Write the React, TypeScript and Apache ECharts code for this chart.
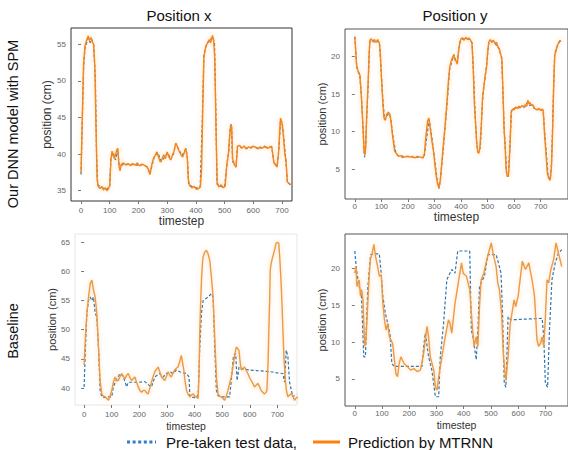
import React, { useEffect, useRef } from 'react';
import * as echarts from 'echarts';

type P = [number, number][];

const xTicks = [0, 100, 200, 300, 400, 500, 600, 700];
const ticksTL = [35, 40, 45, 50, 55];
const ticksTR = [5, 10, 15, 20];
const ticksBL = [40, 45, 50, 55, 60, 65];
const ticksBR = [5, 10, 15, 20];

// Top-left: DNN, position x
const dnnXTest: P = [[0,37.2],[4,44],[9,52],[14,54.5],[20,55.2],[25,55.8],[32,55.2],[38,55.6],[44,54.8],[50,50],[54,40],[58,35.8],[70,35.5],[80,35.3],[90,35.2],[100,35.6],[104,39.5],[112,40.2],[120,39.2],[128,40.6],[134,38],[140,38.5],[155,38.6],[175,38.6],[195,38.5],[215,38.6],[232,38.2],[240,37.3],[255,39.6],[267,40.2],[280,39],[292,39.6],[301,40.2],[313,39.3],[322,40],[330,41.4],[342,40.5],[352,39.8],[365,40.7],[370,39.8],[375,35.9],[385,35.6],[400,35.4],[415,35.5],[422,44],[428,53.5],[437,55],[447,55.4],[458,56],[465,55.2],[470,45],[474,35.9],[485,35.6],[500,35.5],[508,38.5],[515,40.5],[520,43.8],[524,44.1],[528,39],[540,38.3],[545,41.1],[560,40.9],[580,40.8],[600,41],[620,40.8],[640,40.9],[660,41],[665,40.9],[672,38.7],[683,38.3],[690,41],[695,44.7],[701,44.2],[707,42],[713,39.3],[719,36.1],[730,35.8]];
const dnnXPred: P = [[0,37.5],[4,44.5],[9,52.5],[14,54.8],[20,55.6],[25,56.1],[30,55.5],[35,55.9],[40,55.2],[44,55],[48,52],[52,44],[56,36.5],[60,35.6],[66,35.3],[72,35.6],[78,35.1],[84,35.4],[90,35],[96,35.3],[100,35.8],[104,39.2],[108,40.4],[112,39.9],[116,39.4],[120,39.9],[124,40.5],[128,40.8],[132,38.5],[136,37.7],[140,38.6],[148,38.8],[156,38.5],[164,38.7],[172,38.4],[180,38.7],[188,38.5],[196,38.8],[204,38.4],[212,38.6],[220,38.5],[228,38.3],[234,38],[240,37.2],[246,38.5],[252,39.4],[258,39.8],[264,40.3],[270,39.6],[276,38.9],[282,39.3],[288,39.9],[294,39.4],[300,40.3],[306,39.6],[312,39.2],[318,39.8],[324,40.4],[330,41.5],[336,41],[342,40.4],[348,39.9],[354,39.6],[360,40.2],[365,40.8],[370,39.6],[374,36.5],[378,35.7],[386,35.4],[394,35.6],[402,35.2],[410,35.3],[416,35.6],[420,38],[424,46],[428,53.2],[434,54.6],[440,55.1],[446,55.6],[452,55.2],[458,56.2],[462,55.5],[466,53],[470,44],[474,36.2],[480,35.5],[488,35.8],[496,35.4],[502,35.6],[508,38.6],[514,40.2],[518,42.6],[522,44],[525,43.6],[528,39.4],[534,38.6],[540,38.2],[545,41],[552,41.2],[560,40.8],[568,41.1],[576,40.7],[584,41],[592,40.8],[600,41.1],[608,40.9],[616,40.7],[624,41],[632,40.8],[640,41.1],[648,40.8],[656,40.9],[664,41.1],[668,40],[672,38.8],[678,38.6],[683,38.2],[688,40],[692,43],[695,44.9],[700,44.3],[705,42.5],[710,40],[714,39.2],[719,36.2],[725,36],[730,35.9]];

// Top-right: DNN, position y
const dnnYTest: P = [[0,22.7],[4,20.5],[8,18.5],[14,18],[19,17.5],[25,14.7],[31,10.3],[35,7.2],[37,6.6],[40,7.6],[45,12],[50,16],[56,22],[65,22.2],[75,21.9],[85,22.1],[93,21.8],[99,18.2],[106,14],[112,11.6],[120,12.1],[128,12.4],[134,12],[145,9],[155,7.1],[162,6.8],[180,6.6],[200,6.7],[220,6.6],[240,6.6],[261,6.5],[270,9],[280,11.6],[287,10],[293,8.5],[300,6.5],[311,3.25],[317,2.4],[323,3.8],[330,6.4],[340,10.5],[348,13.9],[357,18.3],[367,19.6],[373,20.3],[380,19.5],[385,19.2],[392,21],[398,22.2],[410,22.4],[423,22.4],[432,22.3],[442,21.8],[448,17],[454,11.6],[459,8.5],[464,7.2],[468,7.4],[473,8],[478,12],[483,15.1],[491,17.3],[497,19],[504,21.8],[512,22.1],[522,22],[532,21.6],[541,21.3],[547,20.6],[553,20],[558,15],[563,10],[566,8.5],[572,4.1],[578,4],[584,8],[590,12.9],[603,13.1],[620,13.2],[640,13.3],[650,13.9],[659,13.5],[672,13.5],[678,12.9],[695,13],[709,12.9],[715,10],[721,7.2],[728,4.1],[736,3.6],[740,5],[744,9.4],[748,15],[753,20.4],[761,21.3],[771,22],[775,22.1]];
const dnnYPred: P = [[0,22.6],[3,21],[6,19],[10,18.4],[14,17.8],[19,17.6],[24,15],[28,12.5],[32,9.8],[35,7.5],[38,6.9],[41,8],[45,12.5],[50,16.5],[54,20.5],[57,22.2],[62,22.4],[68,22],[74,22.3],[80,21.9],[86,22.3],[92,21.9],[96,20.5],[100,17.5],[106,13.5],[110,11.8],[115,11.5],[120,12.3],[126,12.6],[131,12.4],[136,11.5],[142,9.5],[150,7.4],[158,7],[166,6.7],[176,6.8],[186,6.6],[196,6.7],[206,6.6],[216,6.7],[226,6.5],[236,6.7],[246,6.6],[256,6.5],[262,7],[268,9.5],[274,11.4],[279,11.8],[284,10.5],[290,8.8],[296,7.5],[302,5.5],[307,4],[312,3],[317,2.5],[322,3.5],[328,6],[334,8.5],[340,10.8],[346,13.5],[352,16.5],[357,18.5],[362,19.3],[367,19.8],[372,20.2],[377,19.6],[382,19.4],[386,19],[390,20.5],[395,21.8],[400,22.4],[406,22.5],[412,22.2],[418,22.6],[424,22.3],[430,22.5],[436,22.2],[441,21.9],[446,18.5],[450,14],[455,11],[459,8.6],[463,7.3],[467,7.1],[471,7.8],[476,10.5],[481,14.5],[486,16],[491,17.5],[496,18.5],[500,20.5],[505,22],[510,22.3],[516,21.9],[522,22.2],[528,21.8],[534,21.9],[540,21.2],[545,21],[550,20.2],[554,19.6],[558,15.5],[562,10.5],[566,8],[570,5],[574,4],[579,4.2],[584,7.5],[589,12.5],[594,13],[600,12.9],[606,13.3],[612,13.1],[618,13.4],[624,13.2],[630,13.5],[636,13.3],[642,13.6],[648,13.4],[652,14.2],[656,13.7],[660,13.9],[664,13.5],[670,13.6],[676,13.1],[682,13],[688,12.9],[694,13.1],[700,12.8],[706,13],[710,12.7],[715,9.5],[720,7],[725,4.5],[730,3.8],[736,3.5],[741,5.5],[745,10],[749,16],[753,20.2],[758,20.8],[763,21.5],[768,21.9],[773,22.2],[776,22]];

// Bottom-left: baseline, position x
const baseXTest: P = [[0,40.2],[4,46],[10,52.8],[16,55],[22,55.6],[28,55],[34,55.6],[40,52.8],[46,52.2],[52,47.1],[58,39.6],[64,38.5],[75,38.4],[88,38.5],[100,38.5],[106,40.2],[118,41.5],[130,42.5],[142,42],[154,40.2],[160,41],[180,41],[200,41],[220,41.1],[235,40.5],[244,40.2],[256,41.9],[274,42.5],[286,41.9],[298,42.5],[310,42.8],[322,42.5],[334,43.1],[346,42.8],[360,42.6],[371,42.5],[380,41.9],[383,38.5],[395,38.4],[407,38.3],[413,39],[419,47.1],[425,52.8],[431,55],[440,55.3],[449,55.6],[461,56.2],[467,55.6],[473,47.1],[479,39.6],[485,38.7],[500,38.5],[515,38.5],[527,38.5],[533,41.3],[541,45.6],[549,45.9],[554,41.3],[561,43.6],[575,43.3],[600,43.1],[625,43],[650,42.9],[675,42.8],[700,42.6],[720,42.5],[726,41],[732,46.5],[738,45.4],[744,41],[756,38.5],[768,39]];
const baseXPred: P = [[0,44],[5,49],[10,52.8],[16,55.6],[22,57.9],[28,58.5],[34,56.8],[40,55.6],[46,52.8],[52,47.1],[58,41.3],[64,39],[70,38.6],[76,38.5],[82,38.2],[88,37.9],[94,38.6],[100,39.6],[106,41],[112,41.9],[118,41.3],[124,41.3],[130,42],[136,42.5],[142,42],[148,41.6],[154,42.2],[160,42.5],[166,41.8],[172,41.3],[178,41.6],[184,41.9],[190,41],[196,40.2],[202,39.6],[208,39.3],[214,39.6],[220,39.6],[226,39.2],[232,39],[238,40],[244,41],[250,42],[256,42.8],[262,43.2],[268,43.6],[274,42.8],[280,41.9],[286,41.6],[292,41.3],[298,42],[304,42.8],[310,42.2],[316,41.9],[322,42.6],[328,43.1],[334,43.4],[340,43.6],[346,44.5],[352,45.6],[356,44.5],[361,43.1],[366,41],[371,39.6],[377,38.9],[383,38.5],[389,38.8],[395,39],[401,38.6],[407,38.5],[413,38.2],[416,42],[419,49.9],[422,54.5],[425,58.5],[428,61],[431,62.5],[437,63.3],[443,63.6],[449,63],[455,61.9],[461,59],[467,55.6],[472,50],[476,45.3],[480,41.5],[485,39],[491,38.6],[497,38.5],[503,38.2],[509,37.9],[515,38.6],[521,39.6],[527,40.8],[533,41.9],[537,43],[541,44.2],[546,45.8],[551,47],[556,46.8],[561,46.4],[565,44.5],[569,43.1],[575,43.3],[581,43.6],[587,43],[593,42.5],[599,41.8],[605,41.3],[611,40.8],[617,40.2],[623,40.5],[629,40.8],[635,40.3],[641,39.6],[647,39.3],[653,39],[658,39.2],[662,39.6],[666,44],[669,49.9],[672,55],[674,60.2],[678,61.5],[683,62.5],[689,63.5],[695,64.8],[700,65],[705,64.8],[709,62],[713,58.5],[717,54],[720,49.9],[724,45],[729,41.3],[733,39.5],[738,38.5],[744,38.8],[750,39],[756,38.6],[762,37.9],[768,38.3],[774,38.5]];

// Bottom-right: baseline, position y
const baseYTest: P = [[0,22.3],[6,19.8],[16,17.5],[24,16.6],[33,8],[39,8],[42,11.6],[48,17.5],[58,21.8],[66,21.9],[90,21.9],[97,19.3],[103,16.2],[112,13.9],[121,12.5],[129,11.2],[136,7.1],[145,6.7],[247,6.7],[253,9.4],[259,11.2],[271,8],[283,6.2],[296,2.6],[308,2.6],[314,8],[326,12.5],[338,18.4],[344,18.9],[356,19.8],[368,19.3],[378,22.3],[422,22.3],[428,11.6],[434,10.7],[446,7.6],[452,11.6],[458,17.5],[464,18],[476,18.9],[489,21.8],[519,21.8],[531,20.2],[537,19.3],[543,13.4],[549,4.4],[555,3.9],[563,13.4],[573,13],[688,13.2],[694,10.7],[700,4.4],[708,3.9],[715,11.6],[724,18.4],[736,20.7],[748,22],[760,22.5]];
const baseYPred: P = [[0,19.3],[4,20.2],[8,17.5],[16,18.4],[21,16.2],[25,17.1],[30,15.7],[34,11.6],[37,9.4],[41,10.3],[46,13.9],[52,18.4],[57,21.1],[64,22],[70,23.2],[76,21.6],[84,20.2],[90,18.9],[97,19.1],[103,15.2],[109,13],[115,11.6],[121,12.5],[127,10.7],[139,9.8],[151,5.7],[157,5.3],[163,7.1],[169,8],[181,7.1],[193,6.7],[205,6.2],[217,6.4],[229,6],[241,6.2],[253,8.5],[265,12.1],[271,10.7],[277,8],[290,6.2],[296,3.9],[302,3.5],[308,5.3],[320,8],[332,10.7],[344,13],[350,12.5],[356,11.2],[368,15.2],[380,18],[392,20.7],[398,19.3],[410,18.9],[422,17.1],[431,12.5],[438,9.4],[446,10.7],[452,9.4],[458,14.8],[464,18.4],[474,19.3],[482,20.7],[491,22],[501,23.4],[510,21.6],[519,20.2],[525,18],[531,17.1],[539,13.9],[546,8],[555,4.8],[563,8],[571,12.5],[579,14.3],[585,15.7],[591,14.8],[600,16.2],[607,18.4],[615,20.9],[627,19.8],[639,20.7],[651,18.4],[660,16.2],[669,10.3],[675,9.4],[682,9.8],[688,10.7],[694,9.4],[700,13.4],[706,18.4],[712,18],[720,19.8],[730,21.1],[739,23.4],[748,22],[760,20.2]];

const FONT = '"Liberation Sans", Arial, sans-serif';
const BLUE = '#2c74b3';
const ORANGE_TOP = '#f5861c';
const ORANGE_BOT = '#eb9a48';

export default function App() {
  const ref = useRef<HTMLDivElement>(null);
  useEffect(() => {
    const chart = echarts.init(ref.current!, null, { renderer: 'svg' });
    const panels = [
      { grid: { left: 71, top: 28, width: 221, height: 173, borderColor: '#333' }, x: [-35, 735], y: [33.6, 57.2], yt: ticksTL, test: dnnXTest, pred: dnnXPred, orange: ORANGE_TOP, yGap: 17, yFs: 12, xGap: 13, xFs: 12, xMargin: 5 },
      { grid: { left: 345, top: 29, width: 226, height: 170, borderColor: '#555' }, x: [-37, 803], y: [1.0, 23.7], yt: ticksTR, test: dnnYTest, pred: dnnYPred, orange: ORANGE_TOP, yGap: 18, yFs: 11, xGap: 12, xFs: 12, xMargin: 3 },
      { grid: { left: 75, top: 234, width: 222, height: 171, borderColor: '#e6e6e6' }, x: [-33, 771], y: [37.1, 66.4], yt: ticksBL, test: baseXTest, pred: baseXPred, orange: ORANGE_BOT, yGap: 17, yFs: 11, xGap: 15, xFs: 10.5, xMargin: 5 },
      { grid: { left: 345, top: 234, width: 226, height: 172, borderColor: '#555' }, x: [-36, 783], y: [1.35, 24.6], yt: ticksBR, test: baseYTest, pred: baseYPred, orange: ORANGE_BOT, yGap: 18, yFs: 11, xGap: 13, xFs: 10.5, xMargin: 3 },
    ];
    const grid = panels.map((p) => ({ ...p.grid, show: true, borderWidth: 1, backgroundColor: 'transparent', containLabel: false }));
    const xAxis = panels.map((p, i) => ({
      type: 'value', gridIndex: i, min: p.x[0], max: p.x[1],
      name: 'timestep', nameLocation: 'middle', nameGap: p.xGap,
      nameTextStyle: { fontSize: p.xFs, color: '#333', fontFamily: FONT },
      axisLine: { show: false }, splitLine: { show: false },
      axisTick: { show: true, length: 3, customValues: xTicks, lineStyle: { color: '#777' } },
      axisLabel: { customValues: xTicks, fontSize: 8, color: '#666', margin: p.xMargin, fontFamily: FONT },
    }));
    const yAxis = panels.map((p, i) => ({
      type: 'value', gridIndex: i, min: p.y[0], max: p.y[1],
      name: 'position (cm)', nameLocation: 'middle', nameGap: p.yGap,
      nameTextStyle: { fontSize: p.yFs, color: '#333', fontFamily: FONT },
      axisLine: { show: false }, splitLine: { show: false },
      axisTick: { show: true, length: 3, customValues: p.yt, lineStyle: { color: '#777' } },
      axisLabel: { customValues: p.yt, fontSize: 8, color: '#666', margin: 5, fontFamily: FONT },
    }));
    const series: any[] = [];
    panels.forEach((p, i) => {
      series.push({
        type: 'line', xAxisIndex: i, yAxisIndex: i, data: p.test, showSymbol: false,
        lineStyle: { color: BLUE, width: 1.2, type: [3, 2] }, z: 2,
      });
      series.push({
        type: 'line', xAxisIndex: i, yAxisIndex: i, data: p.pred, showSymbol: false,
        lineStyle: { color: p.orange, width: 1.4, shadowColor: 'rgba(255,160,60,0.45)', shadowBlur: 4 }, z: 3,
      });
    });
    const graphic: any[] = [
      { type: 'text', x: 179, y: 15, style: { text: 'Position x', font: `15px ${FONT}`, fill: '#111', align: 'center', verticalAlign: 'middle' } },
      { type: 'text', x: 455, y: 15, style: { text: 'Position y', font: `15px ${FONT}`, fill: '#111', align: 'center', verticalAlign: 'middle' } },
      { type: 'text', x: 13, y: 124, rotation: Math.PI / 2, style: { text: 'Our DNN model with SPM', font: `14.5px ${FONT}`, fill: '#111', align: 'center', verticalAlign: 'middle' } },
      { type: 'text', x: 13, y: 331, rotation: Math.PI / 2, style: { text: 'Baseline', font: `14.5px ${FONT}`, fill: '#111', align: 'center', verticalAlign: 'middle' } },
      { type: 'line', shape: { x1: 127, y1: 442, x2: 156, y2: 442 }, style: { stroke: '#2f7fc4', lineWidth: 3, lineDash: [3, 2.6] } },
      { type: 'text', x: 166, y: 442, style: { text: 'Pre-taken test data,', font: `15px ${FONT}`, fill: '#111', verticalAlign: 'middle' } },
      { type: 'line', shape: { x1: 313, y1: 442, x2: 340, y2: 442 }, style: { stroke: '#ff7f0e', lineWidth: 3 } },
      { type: 'text', x: 348, y: 442, style: { text: 'Prediction by MTRNN', font: `15px ${FONT}`, fill: '#111', verticalAlign: 'middle' } },
    ];
    chart.setOption({
      animation: false,
      backgroundColor: '#fff',
      textStyle: { fontFamily: FONT },
      grid, xAxis, yAxis, series, graphic,
    });
    return () => chart.dispose();
  }, []);
  return <div ref={ref} style={{ position: 'fixed', left: 0, top: 0, width: 568, height: 450, background: '#fff' }} />;
}
